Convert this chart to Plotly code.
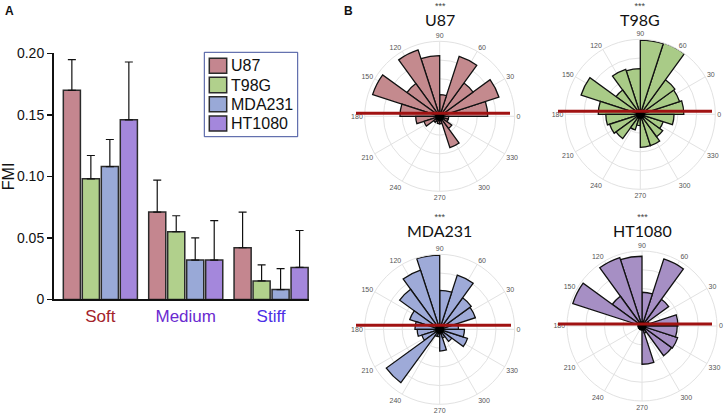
import plotly.graph_objects as go

# ---------------- data ----------------
conditions = ["Soft", "Medium", "Stiff"]
cond_colors = ["#a3232a", "#6a2ad0", "#4b2fe6"]
cell_lines = ["U87", "T98G", "MDA231", "HT1080"]
bar_colors = ["#c4868f", "#b1d08c", "#99a9d7", "#a487dc"]
polar_colors = ["#c48a8e", "#a9cb87", "#9eaad8", "#a68fc4"]

fmi_u87 = [0.170, 0.071, 0.042]
fmi_t98g = [0.098, 0.055, 0.015]
fmi_mda231 = [0.108, 0.032, 0.008]
fmi_ht1080 = [0.146, 0.032, 0.026]
err_u87 = [0.025, 0.026, 0.029]
err_t98g = [0.019, 0.013, 0.013]
err_mda231 = [0.022, 0.018, 0.017]
err_ht1080 = [0.047, 0.032, 0.030]

bin_centers = [9, 27, 45, 63, 81, 99, 117, 135, 153, 171,
               189, 207, 225, 243, 261, 279, 297, 315, 333, 351]
rose_u87 = [0.64, 0.83, 0.55, 0.84, 0.29, 0.81, 0.93, 0.54, 0.94, 0.53,
            0.32, 0.22, 0.10, 0.08, 0.10, 0.10, 0.44, 0.20, 0.12, 0.12]
rose_t98g = [0.58, 0.55, 0.57, 1.00, 0.99, 0.61, 0.63, 0.40, 0.83, 0.56,
             0.46, 0.43, 0.40, 0.22, 0.15, 0.44, 0.44, 0.37, 0.32, 0.45]
rose_mda231 = [0.25, 0.50, 0.52, 0.76, 0.52, 0.99, 0.83, 0.66, 0.42, 0.33,
               0.30, 0.25, 0.88, 0.10, 0.10, 0.29, 0.12, 0.20, 0.39, 0.33]
rose_ht1080 = [0.48, 0.10, 0.44, 0.94, 0.45, 0.93, 0.96, 0.49, 0.97, 0.05,
               0.05, 0.05, 0.05, 0.05, 0.05, 0.51, 0.10, 0.49, 0.50, 0.47]
angle_ticks = [0, 30, 60, 90, 120, 150, 180, 210, 240, 270, 300, 330]
significance = "***"

W, H = 724, 415
FONT = "Liberation Sans, Arial, sans-serif"
TFONT = "Lato, Open Sans, sans-serif"


def px(x):
    return x / W


def py(y):
    return (H - y) / H


fig = go.Figure()

fmi = [fmi_u87, fmi_t98g, fmi_mda231, fmi_ht1080]
errs = [err_u87, err_t98g, err_mda231, err_ht1080]
for name, col, vals, er in zip(cell_lines, bar_colors, fmi, errs):
    fig.add_trace(go.Bar(
        x=list(range(len(conditions))), y=vals, name=name, showlegend=False,
        marker=dict(color=col, line=dict(color="#2b2b2b", width=1.5)),
        error_y=dict(type="data", array=er, arrayminus=[0] * len(er),
                     symmetric=False, color="#111", thickness=1.2, width=4),
        xaxis="x", yaxis="y",
    ))

fig.update_layout(
    template="none",
    barmode="group", bargap=0.11, bargroupgap=0.1,
    xaxis=dict(domain=[px(54), px(309)], range=[-0.543, 2.444],
               tickvals=[0, 1, 2],
               ticktext=[f'<span style="color:{c}">{t}</span>' for t, c in zip(conditions, cond_colors)],
               tickfont=dict(family=FONT, size=17), showline=True,
               linecolor="#111", linewidth=2, ticks="", showgrid=False,
               zeroline=False, fixedrange=True, automargin=False),
    yaxis=dict(domain=[py(299.4), py(53.4)], range=[0, 0.2],
               tickvals=[0, 0.05, 0.10, 0.15, 0.20],
               ticktext=["0", "0.05", "0.10", "0.15", "0.20"],
               tickfont=dict(family=FONT, size=14, color="#111"),
               showline=True, linecolor="#111", linewidth=2, ticks="outside",
               ticklen=5, tickwidth=1.5, tickcolor="#111", showgrid=False,
               zeroline=False, automargin=False,
               title=dict(text="FMI", font=dict(family=FONT, size=16, color="#111"),
                          standoff=6)),
)

shapes = []
annotations = []

# manual legend (box, swatches, labels)
shapes.append(dict(type="rect", xref="paper", yref="paper",
                   x0=px(204.3), x1=px(297.7), y0=py(136.7), y1=py(52.3),
                   line=dict(color="#3f4f9c", width=1), fillcolor="white", layer="above"))
leg_rows = [(58.3, 73.3), (77.3, 92.7), (96.7, 111.7), (116, 131)]
for (y0, y1), name, col in zip(leg_rows, cell_lines, bar_colors):
    shapes.append(dict(type="rect", xref="paper", yref="paper",
                       x0=px(209.3), x1=px(226.7), y0=py(y1), y1=py(y0),
                       line=dict(color="#2b2b2b", width=1.5), fillcolor=col, layer="above"))
    annotations.append(dict(text=name, x=px(229), y=py((y0 + y1) / 2), xref="paper",
                            yref="paper", showarrow=False, xanchor="left",
                            yanchor="middle",
                            font=dict(family=FONT, size=16, color="#111")))

roses = [rose_u87, rose_t98g, rose_mda231, rose_ht1080]
centers = [(439.7, 116.3), (640.3, 114.3), (439.7, 329.3), (642.0, 326.0)]
R = 75
red_y_off = [3, 3, 4, 2]
red_x = [(356, 510), (558, 712), (356, 511), (558, 712)]
for i, (name, col, r, (cx, cy)) in enumerate(zip(cell_lines, polar_colors, roses, centers)):
    pid = "polar" if i == 0 else f"polar{i + 1}"
    fig.add_trace(go.Barpolar(
        r=r, theta=bin_centers, width=[18] * len(bin_centers),
        marker=dict(color=col, line=dict(color="#111", width=1.3)),
        subplot=pid, showlegend=False,
    ))
    fig.add_trace(go.Scatterpolar(
        r=[0], theta=[0], mode="markers",
        marker=dict(color="#000", size=9), subplot=pid, showlegend=False,
    ))
    fig.layout[pid] = dict(
        domain=dict(x=[px(cx - R), px(cx + R)], y=[py(cy + R), py(cy - R)]),
        bgcolor="rgba(0,0,0,0)",
        radialaxis=dict(range=[0, 1], tickvals=[0.25, 0.5, 0.75, 1.0],
                        showticklabels=False, ticks="", showline=False,
                        gridcolor="#e2e2e2", gridwidth=1),
        angularaxis=dict(tickvals=angle_ticks, ticktext=[str(a) for a in angle_ticks],
                         direction="counterclockwise", rotation=0,
                         tickfont=dict(family=FONT, size=7, color="#555"),
                         ticks="", showline=True, linecolor="#e2e2e2",
                         gridcolor="#e2e2e2", gridwidth=1),
    )
    y = cy - red_y_off[i]
    shapes.append(dict(type="line", xref="paper", yref="paper",
                       x0=px(red_x[i][0]), x1=px(red_x[i][1]), y0=py(y), y1=py(y),
                       line=dict(color="#a01212", width=3), layer="above"))
    top = 0 if i < 2 else 211
    label = (f'<span style="font-size:9px;color:#444">{significance}</span><br>'
             f'<span style="font-size:16px;font-family:{TFONT}">{name}</span>')
    annotations.append(dict(text=label, x=px(cx), y=py(top), xref="paper",
                            yref="paper", showarrow=False, xanchor="center",
                            yanchor="top", align="center", borderpad=0,
                            font=dict(family=FONT, size=12.8, color="#111")))

annotations.append(dict(text="<b>A</b>", x=px(3), y=py(11), xref="paper",
                        yref="paper", showarrow=False, xanchor="left", yanchor="middle",
                        font=dict(family=FONT, size=12, color="#111")))
annotations.append(dict(text="<b>B</b>", x=px(342), y=py(11), xref="paper",
                        yref="paper", showarrow=False, xanchor="left", yanchor="middle",
                        font=dict(family=FONT, size=12, color="#111")))

fig.update_layout(
    width=W, height=H, margin=dict(l=0, r=0, t=0, b=0, pad=0, autoexpand=False),
    paper_bgcolor="white", plot_bgcolor="white",
    shapes=shapes, annotations=annotations,
    showlegend=False,
)

fig.write_html("out.html", config={"displayModeBar": False, "staticPlot": True},
               post_script="document.body.style.margin='0px';document.body.style.padding='0px';")
